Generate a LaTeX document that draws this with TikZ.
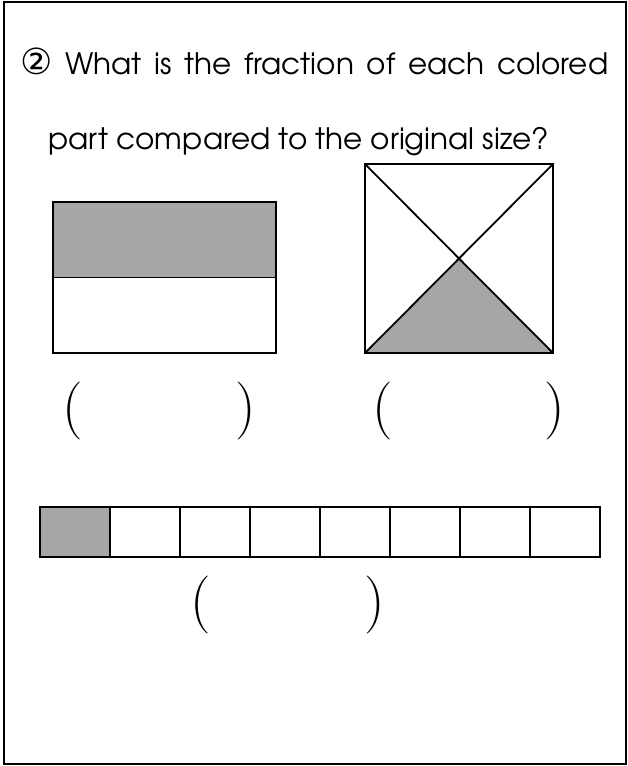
\documentclass[tikz,border=0pt]{standalone}
\usepackage{fontspec}
\setmainfont{TeX Gyre Adventor}
\newfontfamily\symfont{DejaVu Sans}
\newfontfamily\parenfont{Latin Modern Roman}
\definecolor{fillgray}{HTML}{A6A6A6}
\tikzset{
  outline/.style={draw=black, line width=1.8pt},
  paren/.style={inner sep=0pt, font=\parenfont\fontsize{58}{58}\selectfont},
  qtext/.style={inner sep=0pt, anchor=base west, font=\fontsize{29.5}{29.5}\selectfont},
}
\begin{document}
\begin{tikzpicture}[x=1pt,y=-1pt]
\useasboundingbox (0,0) rectangle (628,766);
% frame
\draw[line width=2pt] (4,2) rectangle (626,764);
% question text
\node[qtext] (line1) at (20,74) {\makebox[588pt][s]{{\symfont\fontsize{36}{36}\selectfont ②} What is the fraction of each colored}};
\node[qtext] (line2) at (48,149) {part compared to the original size?};
% rectangle halves
\fill[fillgray] (53,202) rectangle (276,277.5);
\draw[outline] (53,202) rectangle (276,353);
\draw[outline] (53,277.5) -- (276,277.5);
% square with diagonals
\coordinate (sqA) at (365,164);
\coordinate (sqB) at (553,164);
\coordinate (sqC) at (553,353);
\coordinate (sqD) at (365,353);
\coordinate (sqM) at (459,258.5);
\fill[fillgray] (sqD) -- (sqM) -- (sqC) -- cycle;
\draw[outline] (sqA) rectangle (sqC);
\draw[outline] (sqA) -- (sqC);
\draw[outline] (sqB) -- (sqD);
% parentheses, first row
\node[paren] (p1) at (73,411) {(};
\node[paren] (p2) at (246,411) {)};
\node[paren] (p3) at (383,411) {(};
\node[paren] (p4) at (555,411) {)};
% bar of eight cells
\fill[fillgray] (40,507) rectangle (110,557);
\draw[outline] (40,507) rectangle (600,557);
\foreach \i in {1,...,7} {
  \draw[outline] ({40+70*\i},507) -- ({40+70*\i},557);
}
% parentheses, second row
\node[paren] (p5) at (201,605) {(};
\node[paren] (p6) at (375,605) {)};
\end{tikzpicture}
\end{document}
